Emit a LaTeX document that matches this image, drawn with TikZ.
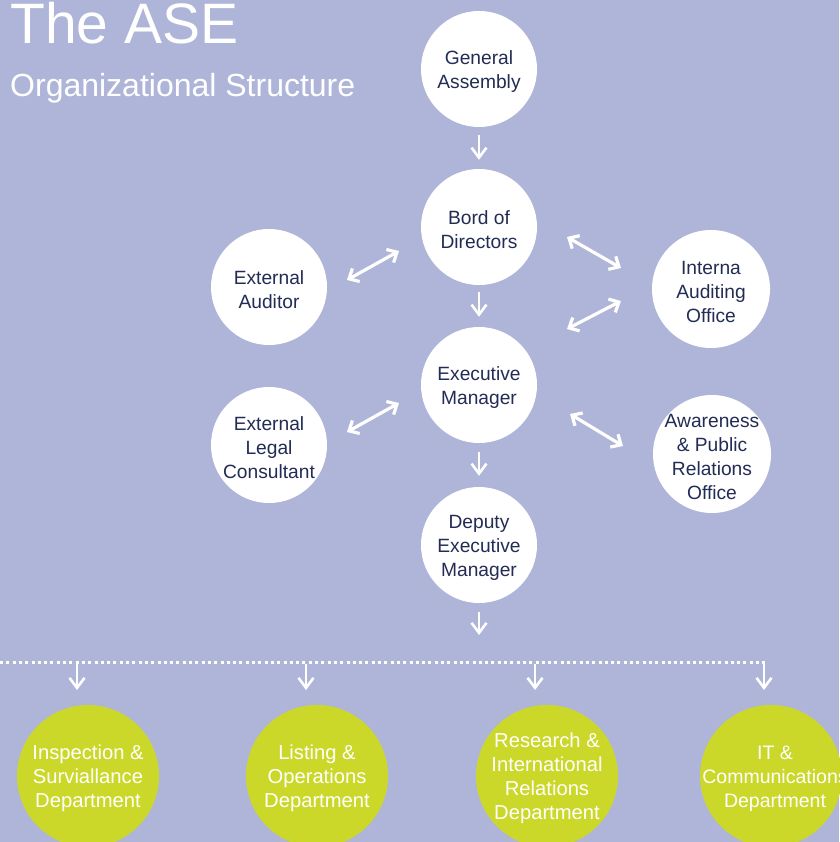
\documentclass[tikz,border=0pt]{standalone}
\usepackage{fontspec}
\setmainfont{Liberation Sans}
\usetikzlibrary{arrows.meta}
\definecolor{bg}{HTML}{AFB5D9}
\definecolor{lime}{HTML}{CBD82A}
\definecolor{navy}{HTML}{222C55}
\tikzset{
  wcirc/.style={circle,fill=white,minimum size=116pt,inner sep=0pt,
    label={[wtxt]center:#1}},
  wtxt/.style={inner sep=0pt,align=center,yshift=-2.5pt,text=navy,font=\fontsize{19.2}{24}\selectfont},
  lcirc/.style={circle,fill=lime,minimum size=142pt,inner sep=0pt},
  ltxt/.style={inner sep=0pt,align=center,text=white,font=\fontsize{20.2}{24}\selectfont},
  darr/.style={white,line width=2.6pt,-{Straight Barb[length=10pt,width=15pt]}},
  dbl/.style={white,line width=3.2pt,{Straight Barb[length=8pt,width=15pt]}-{Straight Barb[length=8pt,width=15pt]}},
  dotline/.style={white,line width=3pt,dash pattern=on 3pt off 3.3pt},
  ttl/.style={text=white,anchor=base west,inner sep=0pt}
}
\begin{document}
\begin{tikzpicture}[x=1pt,y=-1pt]
\fill[bg] (0,0) rectangle (839,842);
\useasboundingbox (0,0) rectangle (839,842);
\node[ttl,font=\fontsize{57}{60}\selectfont] (t1) at (10,43.5) {The ASE};
\node[ttl,font=\fontsize{32}{36}\selectfont] (t2) at (10,97) {Organizational Structure};

\node[wcirc={General\\Assembly}] (ga) at (479,69) {};
\node[wcirc={Bord of\\Directors}] (bod) at (479,227) {};
\node[wcirc={External\\Auditor}] (ea) at (269,287) {};
\node[wcirc={Interna\\Auditing\\Office},minimum size=118pt] (iao) at (711,289) {};
\node[wcirc={Executive\\Manager}] (em) at (479,385) {};
\node[wcirc={External\\Legal\\Consultant}] (elc) at (269,445) {};
\node[wcirc={Awareness\\\&~Public\\Relations\\Office},minimum size=118pt] (apr) at (712,454) {};
\node[wcirc={Deputy\\Executive\\Manager}] (dem) at (479,545) {};

\node[lcirc] (d1) at (88,776) {};
\node[lcirc] (d2) at (317,776) {};
\node[lcirc] (d3) at (547,776) {};
\node[lcirc] (d4) at (771,776) {};
\node[ltxt] (d1t) at (88,778.5) {Inspection \&\\Surviallance\\Department};
\node[ltxt] (d2t) at (317,778.5) {Listing \&\\Operations\\Department};
\node[ltxt] (d3t) at (547,778.5) {Research \&\\International\\Relations\\Department};
\node[ltxt,font=\fontsize{19.5}{24}\selectfont] (d4t) at (775,778.5) {IT \&\\Communications\\Department};

\draw[darr,shorten <=8pt,shorten >=9pt] (ga) -- (bod);
\draw[darr,shorten <=7pt,shorten >=10pt] (bod) -- (em);
\draw[darr,shorten <=9pt,shorten >=11pt] (em) -- (dem);
\coordinate (dtop) at (479,612);
\coordinate (dbot) at (479,635);
\draw[darr] (dtop) -- (dbot);

\coordinate (l0) at (0,662);
\coordinate (l1) at (766,662);
\draw[dotline] (l0) -- (l1);
\foreach \n/\x in {1/77,2/306,3/535,4/764}{
  \coordinate (a\n) at (\x,664);
  \coordinate (b\n) at (\x,690);
  \draw[darr] (a\n) -- (b\n);
}

\coordinate (p1a) at (347,280); \coordinate (p1b) at (399,251);
\coordinate (p2a) at (567,237); \coordinate (p2b) at (621,268);
\coordinate (p3a) at (567,329); \coordinate (p3b) at (621,301);
\coordinate (p4a) at (347,432); \coordinate (p4b) at (399,403);
\coordinate (p5a) at (570,414); \coordinate (p5b) at (623,446);
\draw[dbl] (p1a) -- (p1b);
\draw[dbl] (p2a) -- (p2b);
\draw[dbl] (p3a) -- (p3b);
\draw[dbl] (p4a) -- (p4b);
\draw[dbl] (p5a) -- (p5b);
\end{tikzpicture}
\end{document}
